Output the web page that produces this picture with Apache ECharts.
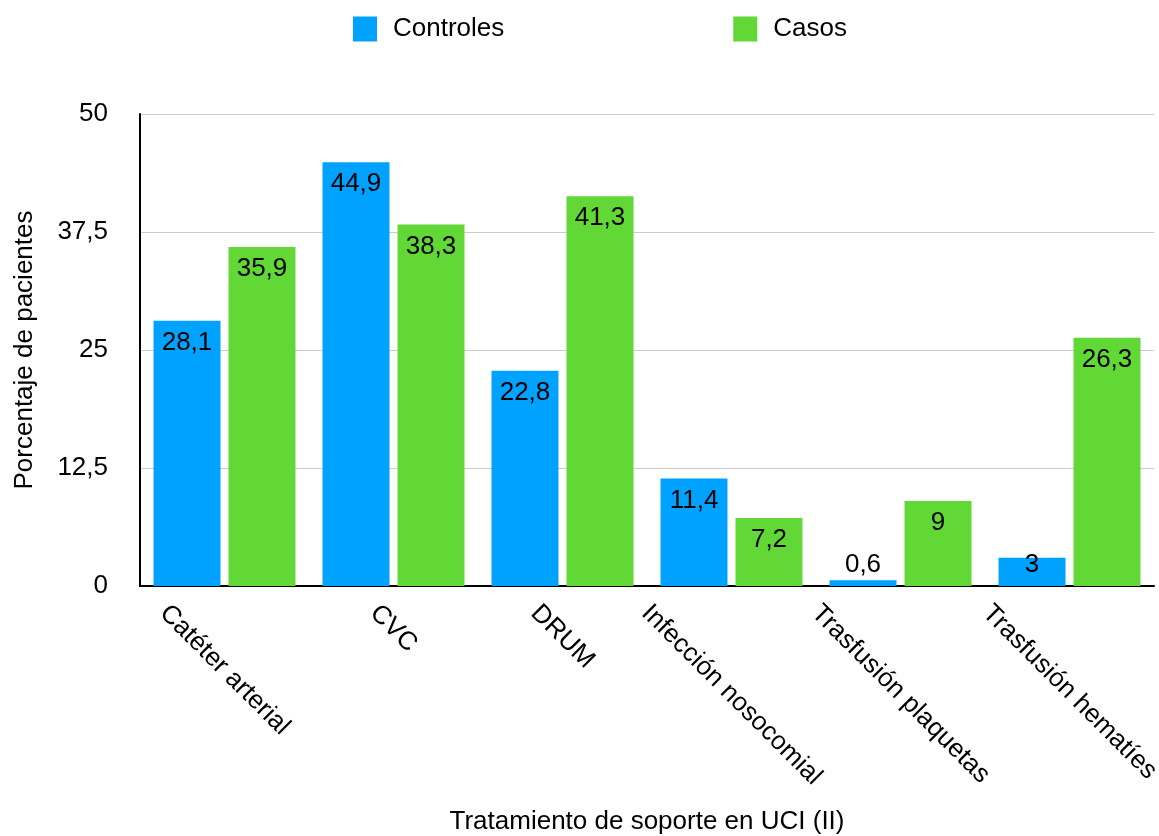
<!DOCTYPE html>
<html>
<head>
<meta charset="utf-8">
<title>Tratamiento de soporte en UCI (II)</title>
<script src="https://cdn.jsdelivr.net/npm/echarts@6/dist/echarts.min.js"></script>
<style>
  html, body { margin: 0; padding: 0; background: #ffffff; }
  #chart { width: 1159px; height: 836px; }
</style>
</head>
<body>
<div id="chart"></div>
<script>
// Data
const categories = ['Catéter arterial', 'CVC', 'DRUM', 'Infección nosocomial', 'Trasfusión plaquetas', 'Trasfusión hematíes'];
const controles = [28.1, 44.9, 22.8, 11.4, 0.6, 3];
const casos = [35.9, 38.3, 41.3, 7.2, 9, 26.3];
const yTicks = [0, 12.5, 25, 37.5, 50];

const FONT = '"Liberation Sans", Arial, Helvetica, sans-serif';
const FS = 26;
const BLUE = '#00A2FF';
const GREEN = '#61D836';

// Decimal comma for every number shown
const comma = v => String(v).replace('.', ',');

// Rotated category labels are centred under their tick with the top of each
// label's box on a common line. The label is top-anchored; left and top padding
// move its centre straight down by half the rotated box height.
const measureCtx = document.createElement('canvas').getContext('2d');
measureCtx.font = FS + 'px ' + FONT;
function categoryLabelStyle(text) {
  const w = measureCtx.measureText(text).width;
  const left = (w + FS) / 2;
  const top = Math.max(0, (w - FS) / 4);
  return { align: 'center', verticalAlign: 'top', padding: [top, 0, 0, left] };
}

// Bars too short to hold their value inside get it just above the baseline
const SHORT_BAR = 4;
function barItems(values) {
  return values.map(v => v < SHORT_BAR
    ? { value: v, label: { position: 'insideBottom', distance: 8 } }
    : v);
}

const valueLabel = {
  show: true,
  position: 'insideTop',
  distance: 9,
  color: '#000',
  fontSize: FS,
  fontFamily: FONT,
  formatter: p => comma(p.value)
};

const chart = echarts.init(document.getElementById('chart'), null, { renderer: 'canvas' });

chart.setOption({
  backgroundColor: '#ffffff',
  animation: false,
  textStyle: { fontFamily: FONT, color: '#000' },
  legend: {
    left: 353,
    top: 16,
    padding: 0,
    itemWidth: 24,
    itemHeight: 25,
    itemGap: 229,
    icon: 'rect',
    textStyle: { fontSize: FS, color: '#000', fontFamily: FONT, padding: [0, 0, 0, 11] },
    data: ['Controles', 'Casos']
  },
  grid: {
    left: 140,
    right: 5,
    top: 114,
    bottom: 250,
    containLabel: false,
    outerBoundsMode: 'none'
  },
  xAxis: {
    type: 'category',
    data: categories.map(c => ({ value: c, textStyle: categoryLabelStyle(c) })),
    axisLine: { show: true, lineStyle: { color: '#000', width: 2 } },
    axisTick: { show: false },
    axisLabel: {
      interval: 0,
      rotate: -45,
      margin: 14,
      fontSize: FS,
      fontFamily: FONT,
      color: '#000'
    },
    name: 'Tratamiento de soporte en UCI (II)',
    nameLocation: 'middle',
    nameGap: 223,
    nameTextStyle: { fontSize: FS, fontFamily: FONT, color: '#000' }
  },
  yAxis: {
    type: 'value',
    min: yTicks[0],
    max: yTicks[yTicks.length - 1],
    interval: yTicks[1] - yTicks[0],
    axisLine: { show: true, lineStyle: { color: '#000', width: 2 } },
    axisTick: { show: false },
    splitLine: { show: true, lineStyle: { color: '#cccccc', width: 1 } },
    axisLabel: {
      margin: 32,
      fontSize: FS,
      fontFamily: FONT,
      color: '#000',
      formatter: v => comma(v)
    },
    name: 'Porcentaje de pacientes',
    nameLocation: 'middle',
    nameGap: 102,
    nameTextStyle: { fontSize: FS, fontFamily: FONT, color: '#000' }
  },
  series: [
    {
      name: 'Controles',
      type: 'bar',
      data: barItems(controles),
      itemStyle: { color: BLUE },
      barGap: '12%',
      barCategoryGap: '16%',
      label: valueLabel
    },
    {
      name: 'Casos',
      type: 'bar',
      data: barItems(casos),
      itemStyle: { color: GREEN },
      barGap: '12%',
      barCategoryGap: '16%',
      label: valueLabel
    }
  ]
});
</script>
</body>
</html>
